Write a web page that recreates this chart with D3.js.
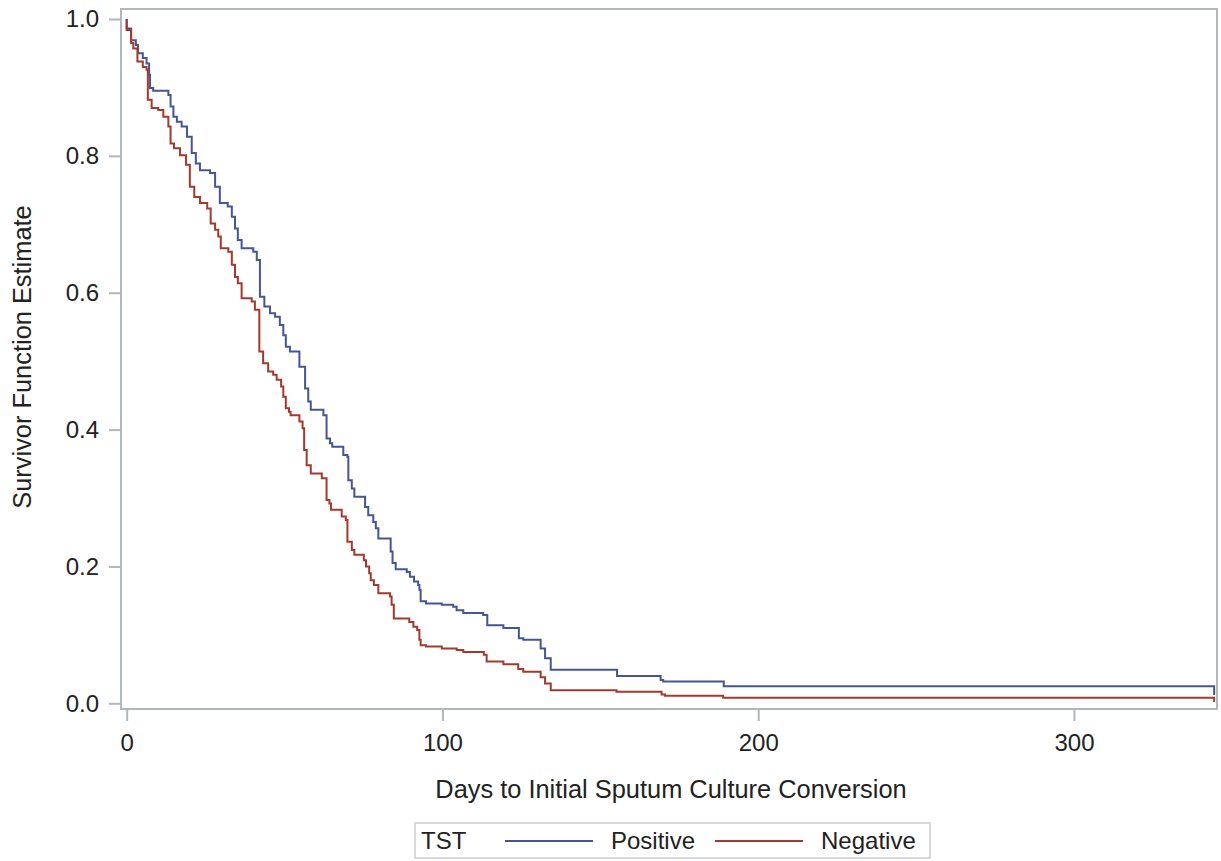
<!DOCTYPE html>
<html>
<head>
<meta charset="utf-8">
<script src="https://cdn.jsdelivr.net/npm/d3@7"></script>
<style>
  body { margin: 0; background: #fff; }
  text { font-family: "Liberation Sans", Arial, sans-serif; fill: #222; }
</style>
</head>
<body>
<div id="chart"></div>
<script>
// Kaplan-Meier step points (day of drop, survival after drop)
const posDays = [0, 1.4, 2.9, 3.6, 5.1, 6.3, 7.1, 7.4, 8.4, 13.2, 13.9, 14.8, 15.9, 17.4, 19.1, 20.6, 21.9, 23.2, 26.4,
    28.0, 29.5, 32.0, 33.3, 34.3, 35.2, 36.4, 40.1, 41.2, 42.2, 43.6, 45.4, 47.0, 48.5, 49.6, 50.4, 51.7, 54.7, 56.5, 57.5,
    58.3, 62.3, 63.3, 64.4, 65.1, 68.6, 69.9, 70.2, 71.3, 72.1, 75.5, 76.5, 78.1, 78.9, 79.7, 83.6, 84.2, 85.2, 88.7, 89.7,
    91.0, 92.3, 92.7, 93.1, 94.8, 99.8, 103.4, 104.5, 106.6, 112.9, 114.2, 119.3, 124.2, 125.6, 131.1, 132.5, 134.3, 155.3,
    169.1, 169.9, 189.1, 344.4];
const posSurv = [0.986, 0.969, 0.962, 0.950, 0.943, 0.935, 0.918, 0.899, 0.895, 0.889, 0.872, 0.857, 0.850, 0.843, 0.828,
    0.804, 0.789, 0.779, 0.775, 0.755, 0.731, 0.726, 0.711, 0.694, 0.677, 0.665, 0.660, 0.648, 0.594, 0.580, 0.570, 0.565,
    0.553, 0.538, 0.521, 0.514, 0.492, 0.460, 0.441, 0.429, 0.421, 0.387, 0.380, 0.375, 0.363, 0.360, 0.326, 0.314, 0.302,
    0.287, 0.275, 0.265, 0.256, 0.241, 0.222, 0.205, 0.196, 0.192, 0.185, 0.178, 0.173, 0.166, 0.149, 0.146, 0.144, 0.141,
    0.136, 0.132, 0.129, 0.114, 0.110, 0.095, 0.093, 0.080, 0.066, 0.049, 0.040, 0.034, 0.032, 0.025, 0.012];

const negDays = [0, 1.4, 2.1, 3.4, 5.1, 6.3, 6.7, 7.9, 10.0, 11.6, 13.2, 13.9, 15.0, 16.9, 18.8, 20.0, 21.4, 23.2, 25.5,
    26.6, 28.0, 29.0, 29.8, 32.2, 33.3, 34.3, 35.2, 36.4, 39.6, 40.6, 42.0, 43.2, 44.8, 46.4, 47.5, 48.9, 49.6, 50.4, 51.4,
    51.9, 54.7, 55.7, 56.2, 57.0, 58.3, 61.8, 63.3, 64.2, 64.7, 68.1, 69.4, 69.9, 71.3, 72.1, 75.1, 75.8, 76.8, 77.3, 78.3,
    79.7, 83.4, 83.9, 84.6, 89.5, 90.8, 92.0, 92.7, 93.1, 94.8, 99.8, 104.5, 106.6, 113.1, 114.0, 119.3, 124.0, 125.6,
    131.1, 132.5, 134.3, 155.1, 169.4, 170.5, 188.9, 344.4];
const negSurv = [0.984, 0.965, 0.957, 0.938, 0.930, 0.926, 0.882, 0.870, 0.867, 0.857, 0.843, 0.818, 0.811, 0.801, 0.787,
    0.755, 0.740, 0.731, 0.723, 0.701, 0.692, 0.682, 0.665, 0.660, 0.641, 0.623, 0.614, 0.592, 0.587, 0.575, 0.514, 0.497,
    0.485, 0.480, 0.473, 0.463, 0.448, 0.431, 0.426, 0.421, 0.412, 0.402, 0.370, 0.348, 0.336, 0.329, 0.297, 0.292, 0.283,
    0.273, 0.268, 0.236, 0.224, 0.217, 0.209, 0.200, 0.190, 0.180, 0.173, 0.161, 0.156, 0.144, 0.124, 0.119, 0.112, 0.107,
    0.093, 0.085, 0.083, 0.080, 0.078, 0.075, 0.071, 0.061, 0.057, 0.050, 0.046, 0.038, 0.029, 0.019, 0.017, 0.013, 0.011,
    0.008, 0.002];

const xTicks = [0, 100, 200, 300];
const yTicks = [0, 0.2, 0.4, 0.6, 0.8, 1.0];
const groups = ["Positive", "Negative"];
const colors = ["#445694", "#a23a2e"];

const width = 1221, height = 861;
const plot = {left: 121, right: 1217, top: 9, bottom: 709};
const frameColor = "#b1b7bc";

const svg = d3.select("#chart").append("svg")
    .attr("width", width)
    .attr("height", height);

const x = d3.scaleLinear().domain([-1.8, 345.3]).range([plot.left, plot.right]);
const y = d3.scaleLinear().domain([-0.0083, 1.0146]).range([plot.bottom, plot.top]);

const yAxis = svg.append("g")
    .attr("transform", `translate(${plot.left},0)`)
    .call(d3.axisLeft(y).tickValues(yTicks).tickFormat(d3.format(".1f")).tickSize(12).tickPadding(10));
const xAxis = svg.append("g")
    .attr("transform", `translate(0,${plot.bottom})`)
    .call(d3.axisBottom(x).tickValues(xTicks).tickFormat(d3.format("d")).tickSize(12).tickPadding(13));

[xAxis, yAxis].forEach(g => {
    g.select(".domain").remove();
    g.selectAll(".tick line").attr("stroke", frameColor).attr("stroke-width", 2);
    g.selectAll(".tick text")
        .attr("font-family", "Liberation Sans, Arial, sans-serif")
        .attr("font-size", 24)
        .attr("fill", "#222");
});

function toPoints(days, surv) {
    const pts = [{t: 0, s: 1}];
    days.forEach((d, i) => pts.push({t: d, s: surv[i]}));
    return pts;
}

const line = d3.line()
    .x(d => x(d.t))
    .y(d => y(d.s))
    .curve(d3.curveStepAfter);

const series = [toPoints(posDays, posSurv), toPoints(negDays, negSurv)];
series.forEach((pts, i) => {
    svg.append("path")
        .attr("d", line(pts))
        .attr("fill", "none")
        .attr("stroke", colors[i])
        .attr("stroke-width", 2);
});

// plot frame
svg.append("rect")
    .attr("x", plot.left)
    .attr("y", plot.top)
    .attr("width", plot.right - plot.left)
    .attr("height", plot.bottom - plot.top)
    .attr("fill", "none")
    .attr("stroke", frameColor)
    .attr("stroke-width", 2);

// axis titles
svg.append("text")
    .attr("x", 671)
    .attr("y", 798)
    .attr("text-anchor", "middle")
    .attr("font-size", 25.4)
    .text("Days to Initial Sputum Culture Conversion");

svg.append("text")
    .attr("transform", `translate(31,357) rotate(-90)`)
    .attr("text-anchor", "middle")
    .attr("font-size", 25.4)
    .text("Survivor Function Estimate");

// legend
const legend = svg.append("g");
legend.append("rect")
    .attr("x", 415).attr("y", 823)
    .attr("width", 515).attr("height", 35)
    .attr("fill", "#fff")
    .attr("stroke", "#c9cccf")
    .attr("stroke-width", 1.5);
legend.append("text")
    .attr("x", 421).attr("y", 849)
    .attr("font-size", 24)
    .text("TST");
const legendX = [505, 715];
groups.forEach((g, i) => {
    legend.append("line")
        .attr("x1", legendX[i]).attr("x2", legendX[i] + 88)
        .attr("y1", 841).attr("y2", 841)
        .attr("stroke", colors[i])
        .attr("stroke-width", 2);
    legend.append("text")
        .attr("x", legendX[i] + 106).attr("y", 849)
        .attr("font-size", 24)
        .text(g);
});
</script>
</body>
</html>
